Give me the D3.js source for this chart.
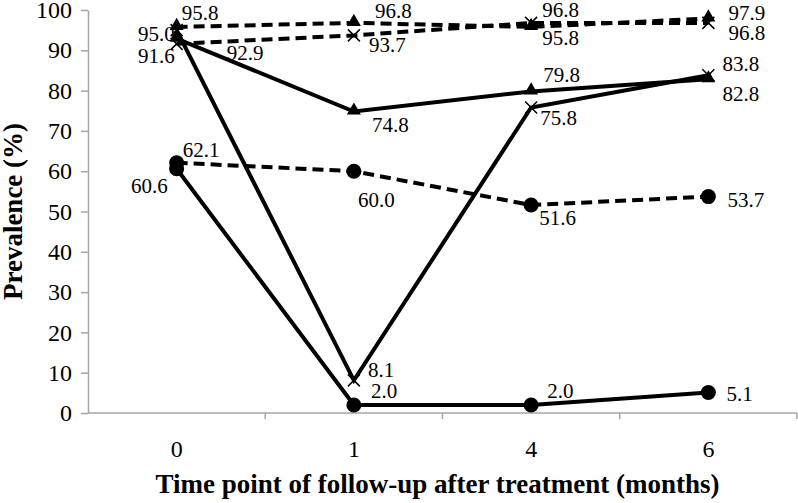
<!DOCTYPE html>
<html>
<head>
<meta charset="utf-8">
<script src="https://cdn.jsdelivr.net/npm/d3@7"></script>
<style>
  body { margin: 0; background: #fff; }
  svg text { font-family: "Liberation Serif", "Times New Roman", serif; }
</style>
</head>
<body>
<div class="chart"></div>
<script>
// time points (months) and prevalence values (%)
var months = ["0", "1", "4", "6"];
var dashTri = [95.8, 96.8, 95.8, 97.9];
var dashCross = [91.6, 93.7, 96.8, 96.8];
var solidTri = [92.9, 74.8, 79.8, 82.8];
var solidCross = [95.0, 8.1, 75.8, 83.8];
var dashCircle = [62.1, 60.0, 51.6, 53.7];
var solidCircle = [60.6, 2.0, 2.0, 5.1];
var yTicks = [0, 10, 20, 30, 40, 50, 60, 70, 80, 90, 100];

// where each value label sits relative to its point: [dx, dy, anchor]
var labelPos = {
  dashTri: [[5, -7, "start"], [21, -5, "start"], [11, 18, "start"], [20, 2, "start"]],
  dashCross: [[-2, 19, "end"], [15, 17, "start"], [11, -6, "start"], [20, 17, "start"]],
  solidTri: [[50, 21, "start"], [18, 20, "start"], [12, -9, "start"], [14, 22, "start"]],
  solidCross: [[-2, 11, "end"], [14, -3, "start"], [9, 17, "start"], [14, -4, "start"]],
  dashCircle: [[6, -6, "start"], [4, 36, "start"], [8, 20, "start"], [19, 10, "start"]],
  solidCircle: [[-9, 24, "end"], [17, -7, "start"], [16, -7, "start"], [18, 9, "start"]]
};

var series = [
  { key: "dashTri", values: dashTri, dashed: true, marker: "triangle" },
  { key: "dashCross", values: dashCross, dashed: true, marker: "cross" },
  { key: "solidTri", values: solidTri, dashed: false, marker: "triangle" },
  { key: "solidCross", values: solidCross, dashed: false, marker: "cross" },
  { key: "dashCircle", values: dashCircle, dashed: true, marker: "circle" },
  { key: "solidCircle", values: solidCircle, dashed: false, marker: "circle" }
];

var width = 798, height = 503;
var plotLeft = 88, plotRight = 797, plotTop = 10, plotBottom = 413;
var axisColor = "#a6a6a6";
var serif = "'Liberation Serif', 'Times New Roman', serif";

var svg = d3.select(".chart").append("svg")
  .attr("width", width)
  .attr("height", height)
  .attr("font-family", serif);

var x = d3.scaleBand().domain(months).range([plotLeft, plotRight]).paddingInner(0).paddingOuter(0);
var y = d3.scaleLinear().domain([0, 100]).range([plotBottom, plotTop]);
function cx(i) { return x(months[i]) + x.bandwidth() / 2; }

// y axis
var yAxis = svg.append("g")
  .attr("transform", "translate(" + plotLeft + ",0)")
  .call(d3.axisLeft(y).tickValues(yTicks).tickSize(7).tickPadding(9).tickSizeOuter(0))
  .attr("font-family", serif)
  .attr("font-size", 24);
yAxis.select(".domain").attr("stroke", axisColor).attr("stroke-width", 1.5);
yAxis.selectAll(".tick line").attr("stroke", axisColor).attr("stroke-width", 1.5);
yAxis.selectAll(".tick text").attr("fill", "#000");

// x axis: labels centred in each band, ticks on band edges
var xAxis = svg.append("g")
  .attr("transform", "translate(0," + plotBottom + ")")
  .call(d3.axisBottom(x).tickSize(0).tickPadding(27))
  .attr("font-family", serif)
  .attr("font-size", 24);
xAxis.select(".domain").remove();
xAxis.selectAll(".tick text").attr("fill", "#000");

svg.append("line")
  .attr("x1", plotLeft).attr("x2", plotRight)
  .attr("y1", plotBottom).attr("y2", plotBottom)
  .attr("stroke", axisColor).attr("stroke-width", 1.5);

svg.selectAll(".xtick")
  .data(months)
  .enter()
  .append("line")
  .attr("class", "xtick")
  .attr("x1", function(d) { return x(d) + x.bandwidth(); })
  .attr("x2", function(d) { return x(d) + x.bandwidth(); })
  .attr("y1", plotBottom)
  .attr("y2", plotBottom + 6)
  .attr("stroke", axisColor)
  .attr("stroke-width", 1.5);

// axis titles
svg.append("text")
  .attr("transform", "translate(22," + ((plotTop + plotBottom) / 2) + ") rotate(-90)")
  .attr("text-anchor", "middle")
  .attr("font-size", 27)
  .attr("font-weight", "bold")
  .text("Prevalence (%)");

svg.append("text")
  .attr("x", (plotLeft + plotRight) / 2 - 5)
  .attr("y", 493)
  .attr("text-anchor", "middle")
  .attr("font-size", 27)
  .attr("font-weight", "bold")
  .text("Time point of follow-up after treatment (months)");

// lines
var line = d3.line()
  .x(function(d, i) { return cx(i); })
  .y(function(d) { return y(d); });

var groups = svg.selectAll(".series")
  .data(series)
  .enter()
  .append("g")
  .attr("class", "series");

groups.append("path")
  .attr("d", function(s) { return line(s.values); })
  .attr("fill", "none")
  .attr("stroke", "#000")
  .attr("stroke-width", 4)
  .attr("stroke-dasharray", function(s) { return s.dashed ? "11,6" : null; });

// markers
var tri = d3.symbol().type(d3.symbolTriangle).size(85);

groups.each(function(s) {
  var g = d3.select(this);
  s.values.forEach(function(v, i) {
    var px = cx(i), py = y(v);
    if (s.marker === "circle") {
      g.append("circle").attr("cx", px).attr("cy", py).attr("r", 7.5).attr("fill", "#000");
    } else if (s.marker === "triangle") {
      g.append("path").attr("d", tri())
        .attr("transform", "translate(" + px + "," + (py - 1) + ")")
        .attr("fill", "#000");
    } else {
      var r = 6;
      g.append("path")
        .attr("d", "M" + (px - r) + "," + (py - r) + "L" + (px + r) + "," + (py + r) +
          "M" + (px - r) + "," + (py + r) + "L" + (px + r) + "," + (py - r))
        .attr("stroke", "#000")
        .attr("stroke-width", 1.5);
    }
  });
});

// value labels
groups.each(function(s) {
  var g = d3.select(this);
  g.selectAll("text")
    .data(s.values)
    .enter()
    .append("text")
    .attr("x", function(d, i) { return cx(i) + labelPos[s.key][i][0]; })
    .attr("y", function(d, i) { return y(d) + labelPos[s.key][i][1]; })
    .attr("text-anchor", function(d, i) { return labelPos[s.key][i][2]; })
    .attr("font-size", 21)
    .text(function(d) { return d.toFixed(1); });
});
</script>
</body>
</html>
